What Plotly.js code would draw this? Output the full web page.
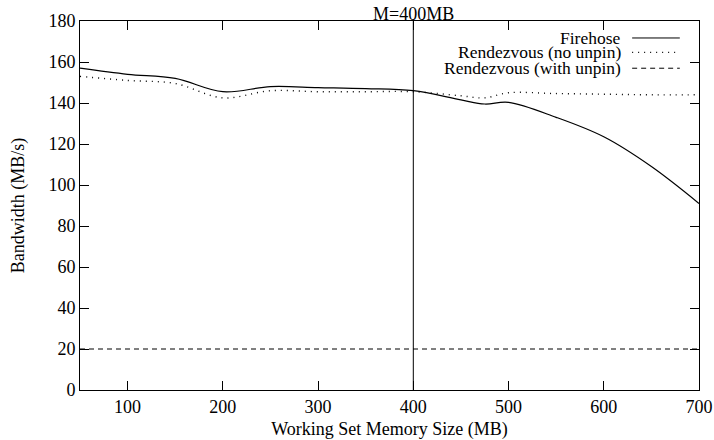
<!DOCTYPE html>
<html><head><meta charset="utf-8">
<script src="https://cdn.plot.ly/plotly-3.0.1.min.js"></script>
<style>html,body{margin:0;padding:0;background:#fff}#chart{width:714px;height:440px}</style>
</head><body><div id="chart"></div>
<script>
const xFirehose = [50,100,150,200,250,300,350,400,450,475,500,550,600,650,700];
const yFirehose = [157,154,152,145.5,148,147.5,147,146,141.5,139.5,140.3,133,123.5,109,91];
const xNoUnpin = [50,100,150,200,250,300,350,400,450,475,500,550,600,650,700];
const yNoUnpin = [153,151,149.5,142.5,146,145.5,145.5,145.5,143.5,142.5,145,144.6,144.3,144,144];
const xWithUnpin = [50,100,150,200,250,300,350,400,450,500,550,600,650,700];
const yWithUnpin = [20,20,20,20,20,20,20,20,20,20,20,20,20,20];
const markerX = 400;
const markerLabel = 'M=400MB';
const seriesNames = ['Firehose','Rendezvous (no unpin)','Rendezvous (with unpin)'];
const dashes = ['solid','1px,5px','5px,4px'];

const font = {family:'"Liberation Serif", "Times New Roman", serif', size:18, color:'#000'};
const legFont = {family:'"Liberation Serif", "Times New Roman", serif', size:17.5, color:'#000'};
const traces = [
  {x:xFirehose, y:yFirehose, name:seriesNames[0], mode:'lines', line:{color:'#000', width:1.2, dash:dashes[0], shape:'spline', smoothing:1}},
  {x:xNoUnpin, y:yNoUnpin, name:seriesNames[1], mode:'lines', line:{color:'#000', width:1.4, dash:dashes[1], shape:'spline', smoothing:1}},
  {x:xWithUnpin, y:yWithUnpin, name:seriesNames[2], mode:'lines', line:{color:'#000', width:1, dash:dashes[2]}},
];
const axisCommon = {showline:true, linecolor:'#000', linewidth:1, mirror:'ticks', ticks:'inside', ticklen:9, tickcolor:'#000', tickwidth:1, showgrid:false, zeroline:false, tickfont:font};
const shapes = [{type:'line', xref:'x', yref:'y', x0:markerX, x1:markerX, y0:0, y1:180, line:{color:'#000', width:1}}];
const annotations = [{xref:'x', yref:'paper', x:markerX, y:1, yanchor:'bottom', text:markerLabel, showarrow:false, font:font, yshift:-5}];
// manual legend: text right-aligned, sample line on right
const legY = [0.954, 0.915, 0.872];
seriesNames.forEach((n,i)=>{
  annotations.push({xref:'paper', yref:'paper', x:0.878, y:legY[i], xanchor:'right', yanchor:'middle', text:n, showarrow:false, font:legFont});
  shapes.push({type:'line', xref:'paper', yref:'paper', x0:0.892, x1:0.969, y0:legY[i], y1:legY[i], line:{color:'#000', width:i===1?1.4:1, dash:dashes[i]}});
});
const layout = {
  width:714, height:440, margin:{l:80, r:15, t:21, b:50},
  paper_bgcolor:'#fff', plot_bgcolor:'#fff', showlegend:false, font:font,
  xaxis:Object.assign({}, axisCommon, {range:[50,700], tickvals:[100,200,300,400,500,600,700], title:{text:'Working Set Memory Size (MB)', font:font, standoff:6}}),
  yaxis:Object.assign({}, axisCommon, {range:[0,180], dtick:20, tick0:0, title:{text:'Bandwidth (MB/s)', font:font, standoff:19}}),
  shapes:shapes, annotations:annotations
};
Plotly.newPlot('chart', traces, layout, {displayModeBar:false, staticPlot:true});
</script></body></html>
